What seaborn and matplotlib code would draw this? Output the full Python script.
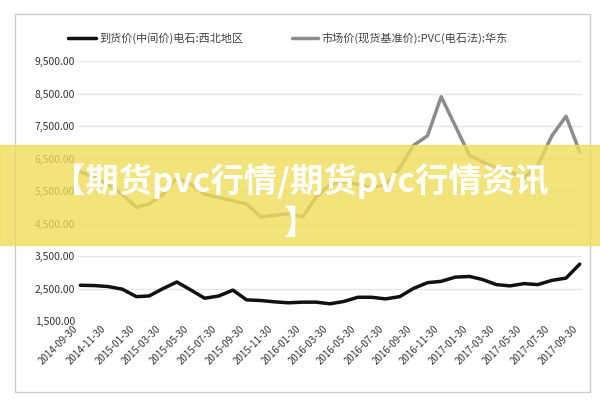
import matplotlib
matplotlib.use("Agg")
import matplotlib.pyplot as plt
import seaborn as sns
import pandas as pd
from matplotlib.patches import Rectangle

sns.set_theme(style="white")
plt.rcParams['font.family'] = ['Noto Sans CJK SC', 'DejaVu Sans']

months = pd.date_range("2014-09-30", "2017-09-30", freq="ME")
black_vals = [2600,2590,2560,2480,2250,2270,2500,2700,2450,2200,2270,2450,2150,2130,2090,2060,2080,2080,2030,2100,
              2230,2230,2180,2250,2500,2680,2720,2850,2870,2780,2620,2580,2650,2620,2750,2820,3250]
gray_vals = [6100,5900,5700,5400,5000,5100,5400,5900,5700,5400,5300,5200,5100,4700,4750,4800,4700,5300,5700,5800,
             5700,5600,5700,6200,6900,7200,8400,7500,6600,6400,6200,6100,5900,6300,7200,7800,6700]
tick_labels = [d.strftime("%Y-%m-30") for d in months[::2]]
name_black = "到货价(中间价)电石:西北地区"
name_gray = "市场价(现货基准价):PVC(电石法):华东"

df = pd.DataFrame({"date": list(months)*2,
                   "value": black_vals + gray_vals,
                   "series": [name_black]*len(months) + [name_gray]*len(months)})

fig = plt.figure(figsize=(6, 4), dpi=100)
fig.patches.append(Rectangle((0.025, 0.02), 0.958, 0.945, transform=fig.transFigure,
                             fill=False, edgecolor="#cccccc", lw=1))
ax = fig.add_axes([0.13, 0.1975, 0.84, 0.65])
sns.lineplot(data=df, x="date", y="value", hue="series", palette=["#111111", "#8c8c8c"],
             linewidth=2.5, ax=ax, legend=False)
ax.set_ylim(1500, 9500)
ax.set_yticks(range(1500, 9501, 1000))
ax.set_yticklabels([f"{v:,.2f}" for v in range(1500, 9501, 1000)], fontsize=7.5, color="#333333")
ax.set_xlim(months[0] - pd.Timedelta(days=5), months[-1] + pd.Timedelta(days=5))
ax.set_xticks(months[::2])
ax.set_xticklabels(tick_labels, rotation=45, ha="right", fontsize=7, color="#333333")
ax.yaxis.grid(True, color="#e6e6e6", lw=1)
for s in ax.spines.values():
    s.set_visible(False)
ax.set_xlabel(""); ax.set_ylabel("")
ax.tick_params(length=0, pad=2)

fig.lines.append(plt.Line2D([0.113, 0.16], [0.905, 0.905], transform=fig.transFigure, color="#111111", lw=2.5))
fig.text(0.165, 0.905, name_black, fontsize=8, va="center", color="#444444")
fig.lines.append(plt.Line2D([0.487, 0.53], [0.905, 0.905], transform=fig.transFigure, color="#8c8c8c", lw=2.5))
fig.text(0.535, 0.905, name_gray, fontsize=8, va="center", color="#444444")

fig.patches.append(Rectangle((0, 0.3875), 1, 0.25, transform=fig.transFigure,
                             color="#f0dc5a", alpha=0.8, zorder=10))
fig.text(0.5, 0.548, "【期货pvc行情/期货pvc行情资讯", fontsize=24, fontweight="bold",
         color="white", ha="center", va="center", zorder=11)
fig.text(0.5, 0.44, "】", fontsize=24, fontweight="bold", color="white",
         ha="center", va="center", zorder=11)
fig.savefig("out.png", dpi=100)
